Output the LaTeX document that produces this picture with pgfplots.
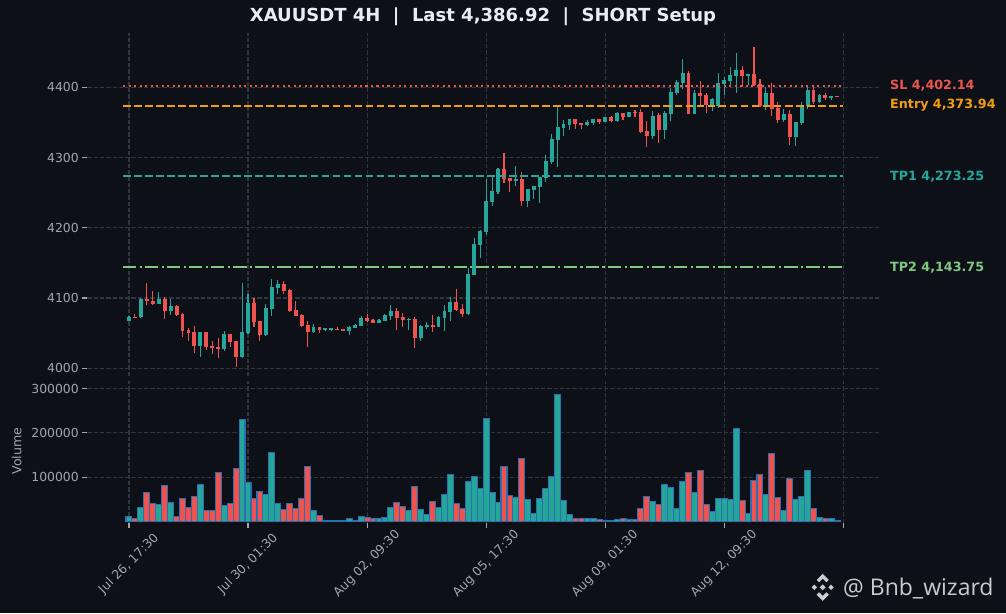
\documentclass[border=0pt]{standalone}
\usepackage{pgfplots}
\pgfplotsset{compat=1.18}
\usepackage{pgfplotstable}
\usepackage{fontspec}
\setmainfont{DejaVu Sans}
\newfontfamily\wmfont{Open Sans}
\definecolor{bg}{HTML}{0D1117}
\definecolor{gridc}{HTML}{30363D}
\definecolor{tickc}{HTML}{A0A6AD}
\definecolor{upc}{HTML}{26A69A}
\definecolor{dnc}{HTML}{EF5350}
\definecolor{edgec}{HTML}{2A6FB0}
\definecolor{slc}{HTML}{EF5350}
\definecolor{entc}{HTML}{F39C12}
\definecolor{tp1c}{HTML}{26A69A}
\definecolor{tp2c}{HTML}{81C784}
\definecolor{titlec}{HTML}{E6EDF3}
\definecolor{wmc}{HTML}{C8CCD0}

% up candles: index, open, high, low, close, volume
\pgfplotstableread{
i o h l c v
0 4068 4074 4067 4073 12000
2 4072.4 4099.5 4072 4099 32000
5 4091.9 4108.6 4091 4099 39000
7 4081.9 4098.6 4075.2 4089 44000
12 4031.9 4052 4016.7 4051.9 84000
16 4027.6 4052.4 4025.2 4049 37000
19 4016.2 4121.4 4014.8 4051.9 231000
20 4050.5 4106 4048.6 4093.3 89000
23 4046.7 4091.9 4045.7 4086.2 62000
24 4084.8 4127 4073.8 4116.2 156000
25 4114.8 4125.7 4106.2 4120.5 41000
31 4051.9 4062.9 4050 4059 26000
33 4055.7 4058 4053.3 4056.2 3000
34 4055.7 4058 4053.3 4056.2 3000
37 4053.3 4059.5 4048 4059 7500
38 4057.6 4063.3 4056.7 4061.9 3000
39 4060.5 4074.8 4059.5 4071.9 12000
42 4064.8 4070 4064 4069 7000
43 4067.6 4077 4067 4076.2 10000
44 4074.8 4090.5 4069 4081.9 32000
47 4069 4071.9 4054.3 4070.5 26000
49 4043.3 4061.9 4038.6 4060.5 28000
50 4059 4066.2 4056.2 4061.9 16500
52 4059 4074.8 4058.6 4073.3 32000
53 4071.9 4090.5 4052.4 4081.9 62000
54 4080.5 4101.9 4067.6 4094.8 107000
57 4077.3 4142.2 4075.8 4134.1 91000
58 4132.7 4184.8 4132.7 4176.8 102000
59 4175.4 4196.7 4156.4 4195.3 75000
60 4193.8 4269.2 4189.6 4237.9 233000
61 4236.5 4273.5 4230.8 4252.1 66000
62 4250.7 4285.3 4248.3 4283.4 44000
65 4266.8 4288.2 4259.7 4269.7 55000
67 4237.9 4255.4 4228.9 4255 50000
68 4253.6 4259.2 4240.3 4258.8 19000
69 4257.8 4272.5 4234.6 4272 53000
70 4270.6 4303.3 4265.4 4294.8 75000
71 4293.4 4333.2 4291.5 4326.1 102000
72 4324.6 4373 4286.7 4343.1 287000
73 4341.7 4353.1 4330.8 4347.4 48000
74 4346 4355 4339.3 4354.5 16500
77 4346 4353.1 4344.5 4350.2 7500
78 4348.8 4355 4347 4354.5 7500
80 4350.2 4358 4350 4357.3 3000
82 4351.7 4364.5 4351 4363 5000
84 4357.3 4365 4357 4364.5 5000
88 4330.7 4366.3 4326.9 4359.2 46000
90 4339.3 4366.3 4326.5 4364 84000
91 4362 4399.5 4352.6 4393.4 77000
92 4391.5 4410 4389.6 4407.6 30000
93 4406.2 4440.3 4397.6 4420.4 91000
95 4362 4396.2 4361.5 4392 66000
98 4372.5 4385.3 4366.8 4383.9 23000
99 4373.4 4420.4 4370.6 4406.2 53000
100 4404.7 4414.7 4389 4410.4 53000
101 4409 4429 4401 4417.6 50000
102 4416.1 4448.9 4391.5 4424.7 210000
104 4417 4419.5 4403 4419 19000
107 4373.4 4400.5 4367.7 4392 62000
110 4353.5 4369.2 4350.7 4362 26000
112 4329.3 4351 4317 4350.7 50000
113 4349.2 4379.1 4346.4 4374.9 57000
114 4373.4 4400.5 4369.6 4396.2 116000
116 4379.1 4390 4378 4389 10000
118 4384.8 4388 4382 4387.7 7500
}\uptable

% down candles
\pgfplotstableread{
i o h l c v
1 4073.5 4077 4071.5 4072.4 7500
3 4099 4121.4 4089.5 4095.2 66000
4 4096.2 4110 4089.5 4091.9 41000
6 4099 4101.4 4070 4081.9 82000
8 4089 4089.5 4075 4076.2 12000
9 4077.6 4078 4045.2 4053.3 53000
10 4054.8 4057 4039.5 4050.5 32000
11 4051.9 4060.5 4022.4 4031.9 57000
13 4051.9 4052 4026.2 4030.5 26000
14 4031.9 4039 4020 4029 26000
15 4030.5 4042.9 4015.2 4027.6 111000
17 4049 4049.5 4031 4037.6 41000
18 4039 4039.5 4002.4 4016.2 120000
21 4093.3 4100.5 4058.6 4066.2 53000
22 4067.6 4068 4039.5 4046.7 68000
26 4120.5 4124.3 4106.2 4110.5 28000
27 4111.9 4112.3 4079.5 4081.9 41000
28 4083.3 4096 4073.8 4074.8 30000
29 4076.2 4076.6 4058.6 4060.5 53000
30 4061.9 4066.7 4030 4051.9 125000
32 4059 4059.4 4050 4054.8 14000
35 4056.2 4059 4054.5 4054.8 3000
36 4056.2 4056.5 4053 4053.3 1500
40 4071.9 4077.6 4066.2 4067.6 10000
41 4069 4070 4064 4064.8 7000
45 4081.9 4086.2 4054.8 4071.9 44000
46 4073.3 4079 4059 4069 35000
48 4070.5 4073.3 4028.6 4043.3 80000
51 4061.9 4076.2 4051.4 4059 46000
55 4094.8 4113.3 4081.9 4083.3 41000
56 4084.4 4091.5 4072.5 4077.3 30000
63 4283.4 4307.1 4264 4269.7 125000
64 4270.6 4271 4251.2 4266.4 59000
66 4269.2 4279.6 4231.3 4237.9 143000
75 4354.5 4355 4340.8 4347.4 7500
76 4348.8 4349.2 4340.3 4346 7500
79 4354.5 4355 4347.4 4350.2 5000
81 4357.3 4359 4350 4351.7 3000
83 4363 4364 4353 4357.3 7500
85 4365 4367 4357.3 4363.8 5000
86 4365 4369.5 4334.6 4336.2 30000
87 4337.8 4352 4315 4330.5 57000
89 4360.6 4363.9 4321.2 4339.3 39000
94 4420.4 4423.7 4361.5 4362 111000
96 4392 4409 4373 4387.7 116000
97 4389 4391.5 4364 4374.9 39000
103 4424.7 4430.4 4400.5 4416.1 48000
105 4419 4457.4 4401.9 4403.3 93000
106 4404.7 4411.9 4372 4373.4 107000
108 4392 4406.2 4359.2 4369.2 154000
109 4370.6 4379.1 4349.2 4353.5 55000
111 4362 4367.7 4318.4 4329.3 98000
115 4396.2 4401.9 4376.3 4379.1 30000
117 4389 4392 4382.4 4384.8 7500
119 4387.7 4388.3 4385.8 4386.9 1500
}\dntable

\pgfplotsset{
  basepanel/.style={
    scale only axis, width=791.7pt, xmin=-7, xmax=126,
    anchor=south west,
    axis line style={draw=none},
    tick style={draw=tickc, line width=1.1pt},
    tick align=outside, major tick length=5pt,
    xtick={0,20,...,120},
    ytick pos=left, xtick pos=bottom,
    grid=major,
    major grid style={draw=gridc, dash pattern=on 4.3pt off 2pt, line width=1.1pt},
    ticklabel style={font=\fontsize{12.4}{14}\selectfont, text=tickc},
    scaled y ticks=false, scaled x ticks=false,
    /pgf/number format/assume math mode=true,
  },
  wick/.style={draw=none, mark=none, forget plot,
    error bars/.cd, y dir=both, y explicit, error mark=none,
    error bar style={line width=1.1pt, draw=#1, solid}},
  body/.style={draw=none, mark=none, forget plot,
    error bars/.cd, y dir=both, y explicit, error mark=none,
    error bar style={line width=3.9pt, draw=#1, solid}},
}

\begin{document}
\begin{tikzpicture}
\useasboundingbox (0pt,0pt) rectangle (1006pt,613pt);
\fill[bg] (0pt,0pt) rectangle (1006pt,613pt);

% ---------- price panel ----------
\begin{axis}[basepanel, at={(87.3pt,237pt)}, height=343pt,
  ymin=3989, ymax=4477.3,
  ytick={4000,4100,4200,4300,4400},
  yticklabels={4000,4100,4200,4300,4400},
  xticklabels={}, major x tick style={draw=none}, clip=false]
\addplot[wick=upc] table[x=i, y expr={(\thisrow{h}+\thisrow{l})/2}, y error expr={(\thisrow{h}-\thisrow{l})/2}] {\uptable};
\addplot[wick=dnc] table[x=i, y expr={(\thisrow{h}+\thisrow{l})/2}, y error expr={(\thisrow{h}-\thisrow{l})/2}] {\dntable};
\addplot[body=upc] table[x=i, y expr={(\thisrow{o}+\thisrow{c})/2}, y error expr={max(abs(\thisrow{o}-\thisrow{c})/2,0.75)}] {\uptable};
\addplot[body=dnc] table[x=i, y expr={(\thisrow{o}+\thisrow{c})/2}, y error expr={max(abs(\thisrow{o}-\thisrow{c})/2,0.75)}] {\dntable};
% levels
\addplot[slc, line width=2.08pt, dash pattern=on 2.08pt off 3.43pt] coordinates {(-1,4402.14) (120,4402.14)};
\addplot[entc, line width=2.08pt, dash pattern=on 7.7pt off 3.33pt] coordinates {(-1,4373.94) (120,4373.94)};
\addplot[tp1c, line width=2.08pt, dash pattern=on 7.7pt off 3.33pt] coordinates {(-1,4273.25) (120,4273.25)};
\addplot[tp2c, line width=2.08pt, dash pattern=on 13.3pt off 3.33pt on 2.08pt off 3.33pt] coordinates {(-1,4143.75) (120,4143.75)};
\node[anchor=west, inner sep=0pt, text=slc, font=\bfseries\fontsize{12.7}{14}\selectfont] at (axis cs:127.85,4402.14) {SL 4,402.14};
\node[anchor=west, inner sep=0pt, text=entc, font=\bfseries\fontsize{12.7}{14}\selectfont] at (axis cs:127.85,4373.94) {Entry 4,373.94};
\node[anchor=west, inner sep=0pt, text=tp1c, font=\bfseries\fontsize{12.7}{14}\selectfont] at (axis cs:127.85,4273.25) {TP1 4,273.25};
\node[anchor=west, inner sep=0pt, text=tp2c, font=\bfseries\fontsize{12.7}{14}\selectfont] at (axis cs:127.85,4143.75) {TP2 4,143.75};
\end{axis}

% ---------- volume panel ----------
\begin{axis}[basepanel, at={(87.3pt,90pt)}, height=142pt,
  ymin=-2900, ymax=316900,
  ytick={100000,200000,300000},
  yticklabels={100000,200000,300000},
  xticklabels={{Jul 26, 17:30},{Jul 30, 01:30},{Aug 02, 09:30},{Aug 05, 17:30},{Aug 09, 01:30},{Aug 12, 09:30},{}},
  xticklabel style={inner sep=0pt, anchor=center, yshift=-36pt, rotate=45}]
\addplot[ybar, bar width=1, bar shift=0pt, fill=upc, draw=edgec, line width=1.1pt] table[x=i, y=v] {\uptable};
\addplot[ybar, bar width=1, bar shift=0pt, fill=dnc, draw=edgec, line width=1.1pt] table[x=i, y=v] {\dntable};
\end{axis}

% ---------- texts ----------
\node[rotate=90, text=tickc, font=\fontsize{12.6}{14}\selectfont] at (16.7pt,162pt) {Volume};
\node[text=titlec, font=\bfseries\fontsize{18}{20}\selectfont] at (483pt,596pt) {XAUUSDT 4H\ \ |\ \ Last 4,386.92\ \ |\ \ SHORT Setup};
% watermark
\begin{scope}[shift={(822.7pt,25.7pt)}, x=13.5pt, y=13.5pt]
  \fill[wmc] (0,0.22) -- (0.22,0) -- (0,-0.22) -- (-0.22,0) -- cycle;
  \fill[wmc] (0.62,0.2) -- (0.82,0) -- (0.62,-0.2) -- (0.42,0) -- cycle;
  \fill[wmc] (-0.62,0.2) -- (-0.42,0) -- (-0.62,-0.2) -- (-0.82,0) -- cycle;
  \fill[wmc] (0,1) -- (0.45,0.55) -- (0.27,0.37) -- (0,0.64) -- (-0.27,0.37) -- (-0.45,0.55) -- cycle;
  \fill[wmc] (0,-1) -- (0.45,-0.55) -- (0.27,-0.37) -- (0,-0.64) -- (-0.27,-0.37) -- (-0.45,-0.55) -- cycle;
\end{scope}
\node[anchor=base west, inner sep=0pt, text=wmc, font=\wmfont\fontsize{23}{26}\selectfont] at (843pt,17.7pt) {@ Bnb\_wizard};
\end{tikzpicture}
\end{document}
